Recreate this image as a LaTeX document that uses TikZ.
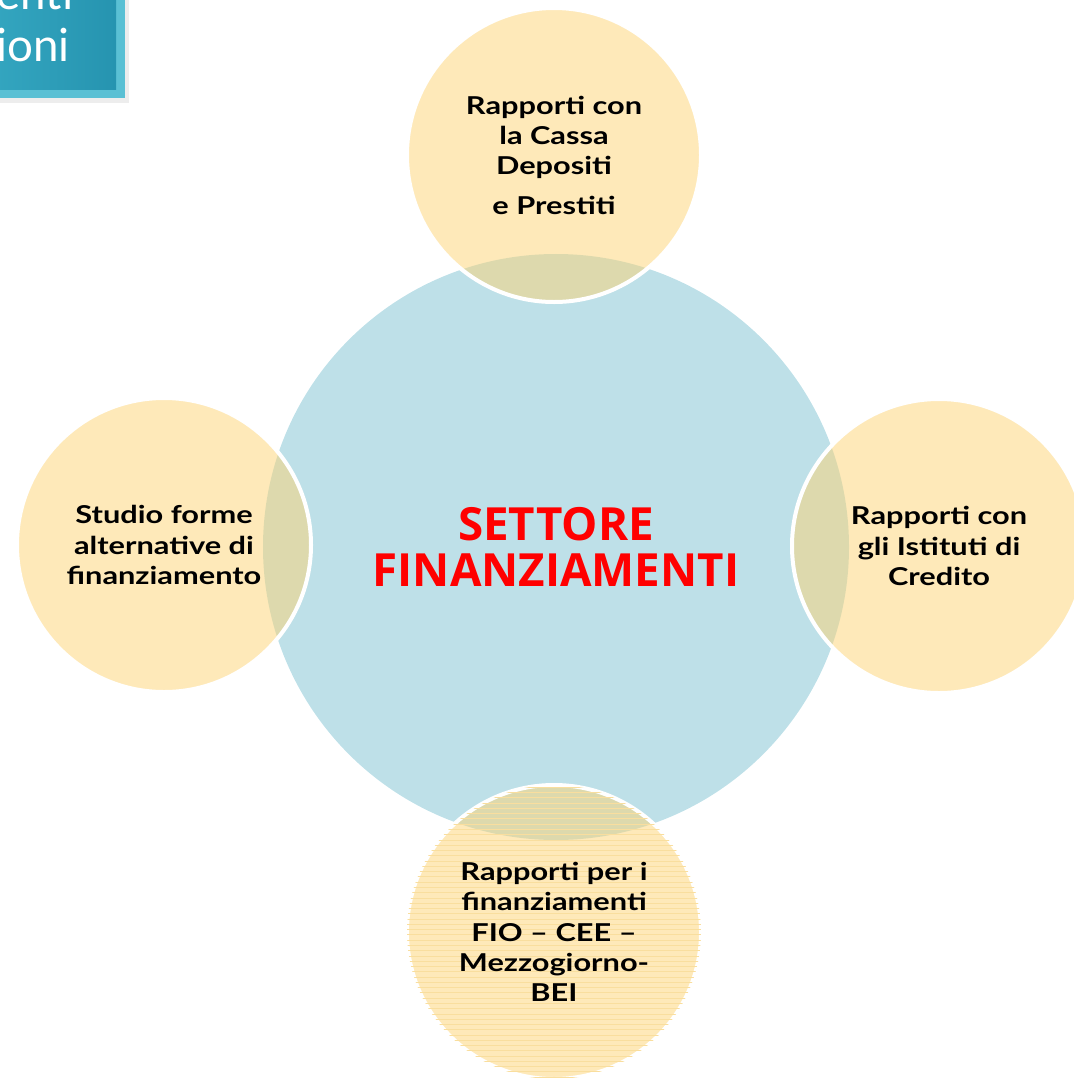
\documentclass[tikz,border=0pt]{standalone}
\usepackage{fontspec}
\usetikzlibrary{patterns}
\newfontfamily\bubblefont{Lato}[FakeStretch=1.25]
\newfontfamily\hubfont{Open Sans}
\newfontfamily\tabfont{Lato}
\definecolor{hubblue}{RGB}{190,224,232}
\definecolor{bubbleyellow}{RGB}{253,211,115}
\definecolor{hubred}{RGB}{255,0,0}
\definecolor{tabface}{RGB}{38,148,176}
\definecolor{tabfacelight}{RGB}{52,166,192}
\definecolor{tabedge}{RGB}{90,192,212}
\definecolor{stripe}{RGB}{249,222,158}
\tikzset{
	hub/.style={circle, fill=hubblue, minimum size=117.2mm, inner sep=0pt, align=center, text=hubred, font=\hubfont\bfseries\fontsize{26}{26.6}\selectfont},
	bubble/.style={circle, fill=bubbleyellow, fill opacity=0.5, text opacity=1, draw=white, line width=0.8mm, minimum size=58.8mm, inner sep=0pt, align=center, font=\bubblefont\bfseries\fontsize{14}{17.3}\selectfont},
	tabtext/.style={text=white, inner sep=0pt, font=\tabfont\fontsize{26}{30}\selectfont}
}
\begin{document}
\begin{tikzpicture}[x=0.2mm, y=-0.2mm]
			%%%%% START %%%%%
			\useasboundingbox (0, 0) rectangle (1074, 1078);
			\clip (0, 0) rectangle (1074, 1078);
			
			% tab in the corner
			\fill[black, opacity=0.07] (-10, -10) rectangle (129, 103);
			\fill[tabedge] (-10, -10) rectangle (125, 98);
			\shade[left color=tabfacelight, right color=tabface] (-10, -10) rectangle (116, 89);
			\node[tabtext, anchor=base east] (tabtop) at (74, 10) {enti};
			\node[tabtext, anchor=base east] (tabbottom) at (70, 62) {ioni};
			
			% hub
			\node[hub] (settore) at (556, 547) {SETTORE\\FINANZIAMENTI};
			
			% satellites
			\node[bubble] (cassa) at (554, 155) {Rapporti con\\la Cassa\\Depositi\\[5pt]e Prestiti};
			\node[bubble] (studio) at (164, 545) {Studio forme\\alternative di\\finanziamento};
			\node[bubble] (credito) at (939, 546) {Rapporti con\\gli Istituti di\\Credito};
			\node[bubble, postaction={pattern=horizontal lines, pattern color=stripe}] (fondi) at (554, 932) {Rapporti per i\\finanziamenti\\FIO – CEE –\\Mezzogiorno-\\BEI};
			
			%%%%% END %%%%%
\end{tikzpicture}
\end{document}
